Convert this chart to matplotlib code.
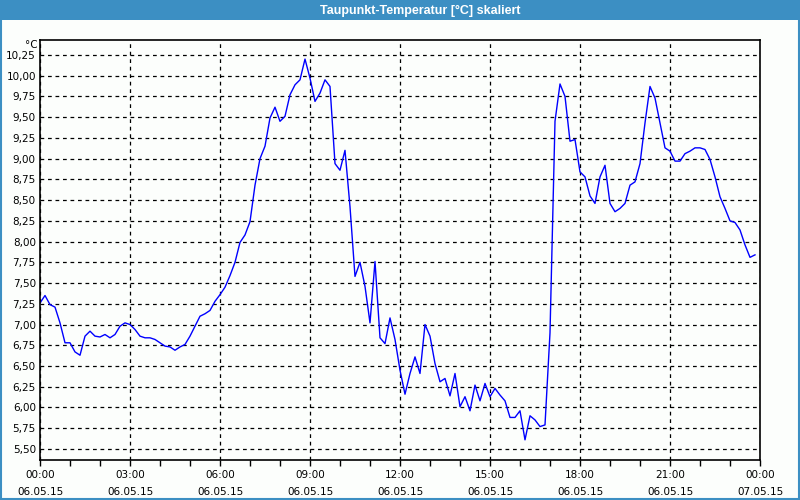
import matplotlib
matplotlib.use("Agg")
import matplotlib.pyplot as plt
import matplotlib.dates as mdates
import matplotlib.ticker as ticker
import pandas as pd

# Taupunkt-Temperatur, 06.05.2015 (minutes after midnight, deg C)
minutes = [
    0, 10, 20, 30, 40, 50, 60, 70, 80, 90, 100, 110, 120, 130, 140, 150,
    160, 170, 180, 190, 200, 210, 220, 230, 240, 250, 260, 270, 280, 290,
    300, 310, 320, 330, 340, 350, 360, 370, 380, 390, 400, 410, 420, 430,
    440, 450, 460, 470, 480, 490, 500, 510, 520, 530, 540, 550, 560, 570,
    580, 590, 600, 610, 620, 630, 640, 650, 660, 670, 680, 690, 700, 710,
    720, 730, 740, 750, 760, 770, 780, 790, 800, 810, 820, 830, 840, 850,
    860, 870, 880, 890, 900, 910, 920, 930, 940, 950, 960, 970, 980, 990,
    1000, 1010, 1020, 1030, 1040, 1050, 1060, 1070, 1080, 1090, 1100, 1110,
    1120, 1130, 1140, 1150, 1160, 1170, 1180, 1190, 1200, 1210, 1220, 1230,
    1240, 1250, 1260, 1270, 1280, 1290, 1300, 1310, 1320, 1330, 1340, 1350,
    1360, 1370, 1380, 1390, 1400, 1410, 1420, 1430,
]
dewpoint = [
    7.26, 7.35, 7.24, 7.21, 7.02, 6.78, 6.78, 6.67, 6.63, 6.86, 6.92, 6.86,
    6.85, 6.88, 6.84, 6.88, 6.98, 7.02, 7.00, 6.94, 6.86, 6.84, 6.84, 6.82,
    6.78, 6.74, 6.73, 6.69, 6.73, 6.76, 6.86, 6.98, 7.10, 7.13, 7.17, 7.28,
    7.36, 7.45, 7.59, 7.75, 7.99, 8.08, 8.24, 8.68, 9.00, 9.15, 9.49, 9.62,
    9.45, 9.51, 9.77, 9.89, 9.95, 10.20, 9.97, 9.69, 9.79, 9.95, 9.87, 8.94,
    8.86, 9.10, 8.42, 7.58, 7.75, 7.46, 7.02, 7.76, 6.84, 6.77, 7.08, 6.82,
    6.45, 6.16, 6.41, 6.61, 6.41, 7.00, 6.86, 6.53, 6.31, 6.35, 6.14, 6.41,
    6.01, 6.13, 5.96, 6.27, 6.08, 6.29, 6.13, 6.23, 6.15, 6.08, 5.88, 5.88,
    5.96, 5.61, 5.90, 5.85, 5.77, 5.79, 6.90, 9.45, 9.90, 9.75, 9.21, 9.23,
    8.84, 8.78, 8.55, 8.46, 8.78, 8.92, 8.46, 8.36, 8.40, 8.46, 8.68, 8.72,
    8.94, 9.43, 9.87, 9.73, 9.43, 9.13, 9.09, 8.97, 8.97, 9.06, 9.09, 9.13,
    9.13, 9.11, 8.99, 8.78, 8.54, 8.40, 8.25, 8.23, 8.14, 7.96, 7.81, 7.84,
]

TITLE = "Taupunkt-Temperatur [°C] skaliert"
UNIT = "°C"
DAY = pd.Timestamp("2015-05-06")

BG = "#fcfefc"
BAR = "#3c8fc3"

plt.rcParams.update({
    "font.family": ["DejaVu Sans"],
    "font.size": 7.5,
})

times = DAY + pd.to_timedelta(minutes, unit="min")

fig = plt.figure(figsize=(8, 5), dpi=100, facecolor=BG)

# title bar and outer border
fig.patches.append(plt.Rectangle((0, 0.96), 1, 0.04, transform=fig.transFigure,
                                 facecolor=BAR, edgecolor="none", zorder=0))
fig.patches.append(plt.Rectangle((0.001, 0.002), 0.998, 0.997, transform=fig.transFigure,
                                 facecolor="none", edgecolor=BAR, linewidth=1.5, zorder=0))
fig.text(0.525, 0.979, TITLE, color="white", fontsize=9, fontweight="bold",
         family="Liberation Sans", ha="center", va="center")

ax = fig.add_axes([0.05, 0.08, 0.90, 0.84], facecolor=BG)
ax.plot(times, dewpoint, color="#0000ff", linewidth=1)

ax.set_xlim(DAY, DAY + pd.Timedelta(days=1))
ax.set_ylim(5.367, 10.43)

ax.xaxis.set_major_locator(mdates.HourLocator(byhour=range(0, 24, 3)))
ax.xaxis.set_minor_locator(mdates.HourLocator())
ax.xaxis.set_major_formatter(mdates.DateFormatter("%H:%M\n%d.%m.%y"))
ax.yaxis.set_major_locator(ticker.MultipleLocator(0.25))
ax.yaxis.set_major_formatter(ticker.FuncFormatter(lambda v, _: f"{v:.2f}".replace(".", ",")))

for lab in ax.get_xticklabels():
    lab.set_linespacing(1.9)

ax.tick_params(axis="x", which="both", direction="out", length=4, width=1, pad=3)
ax.tick_params(axis="y", length=0, pad=3)
ax.grid(True, which="major", color="black", linestyle=(0, (3, 3)), linewidth=0.9)

for sp in ax.spines.values():
    sp.set_linewidth(1.2)

fig.text(0.047, 0.91, UNIT, ha="right", va="center", fontsize=7.5)

fig.savefig("out.png", dpi=100, facecolor=BG)
